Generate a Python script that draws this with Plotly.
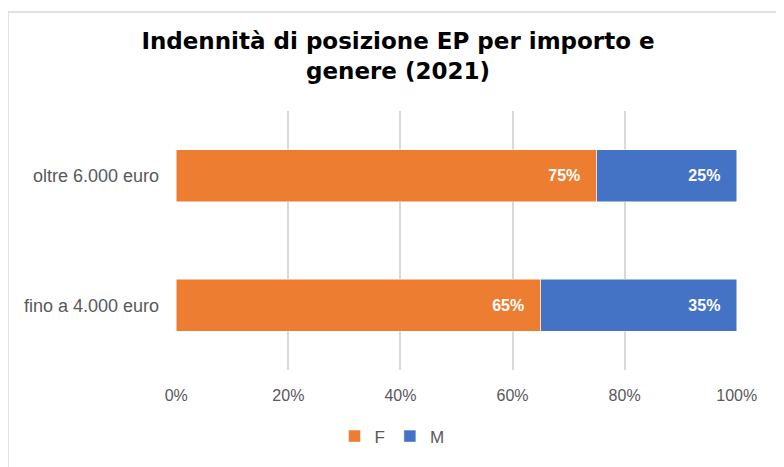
import plotly.graph_objects as go

categories = ["fino a 4.000 euro", "oltre 6.000 euro"]
female = [65, 75]
male = [35, 25]
x_ticks = [0, 20, 40, 60, 80, 100]

ORANGE = "#ED7D31"
BLUE = "#4472C4"
GRAY_TEXT = "#595959"
GRID = "#D9D9D9"
PAD = "\u00a0\u00a0\u00a0"

# page body has an 8px margin, so the figure is sized to the visible area
W, H = 776, 459

fig = go.Figure()
for name, vals, color in [("F", female, ORANGE), ("M", male, BLUE)]:
    fig.add_trace(go.Bar(
        y=categories,
        x=vals,
        name=name,
        orientation="h",
        marker=dict(color=color, line=dict(color="white", width=0.5)),
        text=[f"{v}%{PAD}" for v in vals],
        textposition="inside",
        insidetextanchor="end",
        textfont=dict(family="Liberation Sans", size=16, color="white", weight="bold"),
        hoverinfo="skip",
    ))

fig.update_layout(
    barmode="stack",
    bargap=0.6,
    width=W,
    height=H,
    paper_bgcolor="white",
    plot_bgcolor="white",
    margin=dict(l=168, r=47, t=103, b=92),
    font=dict(family="Liberation Sans", size=16, color=GRAY_TEXT),
    title=dict(
        text="<b>Indennità di posizione EP per importo e<br>genere (2021)</b>",
        font=dict(family="DejaVu Sans", size=23, color="black"),
        x=390 / W, xanchor="center",
        y=1 - 41 / H, yanchor="top",
    ),
    legend=dict(
        orientation="h",
        x=0.385, xanchor="center",
        y=-0.257, yanchor="middle",
        font=dict(size=17, color=GRAY_TEXT),
        itemwidth=30,
        traceorder="normal",
    ),
    showlegend=True,
)
fig.update_xaxes(
    range=[-0.05, 100.05],
    tickvals=x_ticks,
    ticktext=[f"{v}%" for v in x_ticks],
    showgrid=True,
    gridcolor=GRID,
    gridwidth=1.5,
    zeroline=False,
    showline=False,
    ticks="",
    tickfont=dict(size=16, color=GRAY_TEXT),
    ticklabelstandoff=14,
)
fig.update_yaxes(
    showgrid=False,
    showline=False,
    ticks="",
    tickfont=dict(size=18, color=GRAY_TEXT),
    ticklabelstandoff=16,
)
fig.add_shape(
    type="rect", xref="paper", yref="paper",
    x0=-0.2995, x1=1.094, y0=-0.379, y1=1.3826,
    line=dict(color=GRID, width=1.5), layer="below",
)

fig.write_html("out.html")
